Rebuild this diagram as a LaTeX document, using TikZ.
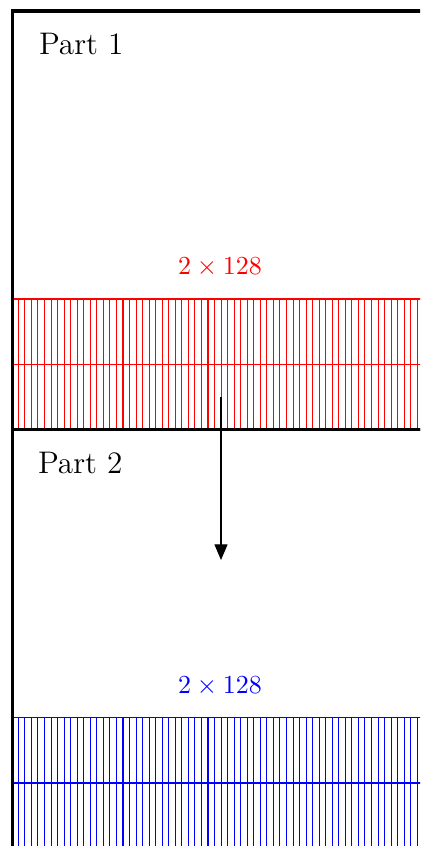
\documentclass[tikz,border=0pt]{standalone}
\usetikzlibrary{arrows.meta}
\begin{document}
\begin{tikzpicture}[x=0.3846pt,y=-0.3846pt,
  frame/.style={line width=1.2pt},
  gridline/.style={line width=0.4pt},
  partlabel/.style={anchor=base west,inner sep=0pt,font=\large},
  dimlabel/.style={anchor=base,inner sep=0pt}]
\useasboundingbox (0,0) rectangle (420,846);
\clip (0,0) rectangle (420,846);
% red grid (part 1)
\foreach \k in {0,...,128}
  \draw[red,gridline] ({11.8+6.54*\k},299) -- ++(0,130.5);
\draw[red,gridline] (11.8,299) -- (860,299);
\draw[red,gridline] (11.8,364.7) -- (860,364.7);
% blue grid (part 2)
\foreach \k in {0,...,128}
  \draw[blue,gridline] ({11.8+6.54*\k},717.3) -- ++(0,131);
\draw[blue,gridline] (11.8,717.3) -- (860,717.3);
\draw[blue,gridline] (11.8,783) -- (860,783);
% frames
\draw[frame] (12.3,11) rectangle (860,429.5);
\draw[frame] (12.3,429.5) rectangle (860,848.3);
% labels
\node[partlabel] (part1) at (38.5,54.3) {Part 1};
\node[partlabel] (part2) at (37.5,473.3) {Part 2};
\node[dimlabel,red] (lab1) at (220,274.3) {$2\times128$};
\node[dimlabel,blue] (lab2) at (220,693.3) {$2\times128$};
% arrow
\coordinate (arrowstart) at (221,396.7);
\coordinate (arrowend) at (221,560);
\draw[gridline,-{Triangle[length=6pt,width=5pt]}] (arrowstart) -- (arrowend);
\end{tikzpicture}
\end{document}
